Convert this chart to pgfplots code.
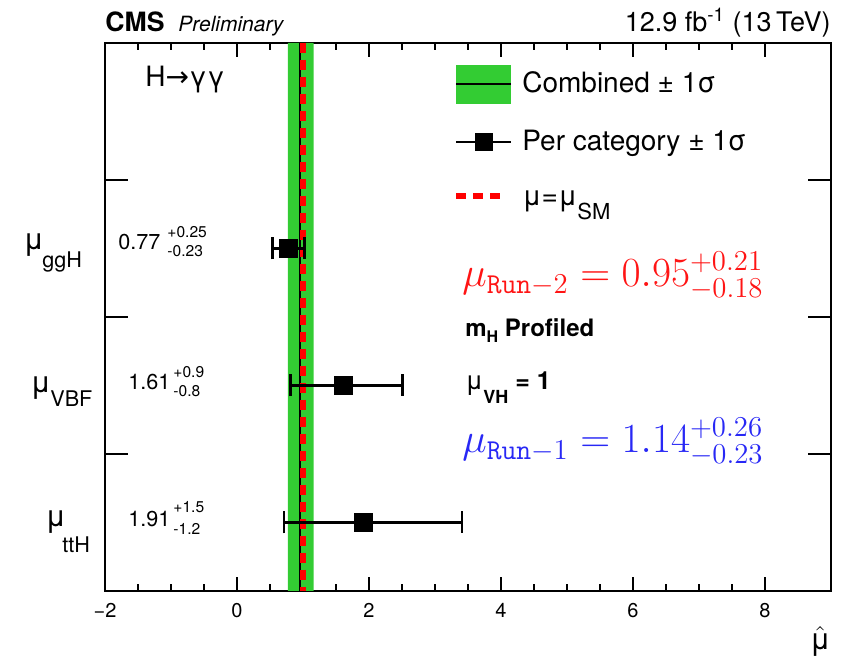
\documentclass[border=0pt]{standalone}
\usepackage{pgfplots}
\pgfplotsset{compat=1.18}
\usepackage{pgfplotstable}
\usepackage{amsmath}
\usepackage[no-math]{fontspec}
\setmainfont{TeX Gyre Heros}
\newfontfamily\dejavu{DejaVu Sans}
\definecolor{cmsgreen}{RGB}{51,204,51}
\definecolor{runred}{RGB}{255,20,20}
\definecolor{runblue}{RGB}{40,40,245}
\newcommand{\fs}[1]{\fontsize{#1}{#1}\selectfont}

\pgfplotstableread{
x y ep em
0.77 2.5 0.25 0.23
1.61 1.5 0.9 0.8
1.91 0.5 1.5 1.2
}\cats

\begin{document}
\begin{tikzpicture}
\begin{axis}[
  scale only axis, width=363pt, height=274pt,
  xmin=-2, xmax=9, ymin=0, ymax=4,
  xtick={-2,0,2,4,6,8},
  xticklabels={−2,0,2,4,6,8},
  minor x tick num=3,
  ytick=\empty,
  extra y ticks={1,2,3}, extra y tick labels={},
  extra y tick style={major tick length=11.5pt},
  major tick length=7pt, minor tick length=3.5pt,
  tick align=inside,
  axis line style={line width=0.8pt},
  every tick/.style={black, line width=0.7pt},
  xticklabel style={font=\fs{10}, yshift=-2.5pt},
  legend style={draw=none, fill=none, at={(rel axis cs:0.4794,0.9607)}, anchor=north west,
    inner sep=0pt, outer sep=0pt, row sep=9.5pt, font=\fs{14},
    nodes={inner sep=0pt}, /tikz/every odd column/.style={column sep=5pt}},
  legend cell align=left,
]
\addlegendimage{legend image code/.code={
  \fill[cmsgreen, draw=none] (0pt,-9.75pt) rectangle (27.5pt,9.75pt);
  \draw[black,line width=1pt] (0pt,0pt)--(27.5pt,0pt);}}
\addlegendentry{Combined ± 1σ}
\addlegendimage{legend image code/.code={
  \path[draw=none, fill=none] (0pt,-9.75pt) rectangle (27.5pt,9.75pt);
  \draw[black,line width=1.3pt] (0pt,0pt)--(27.5pt,0pt);
  \fill[black, draw=none] (9.25pt,-4.5pt) rectangle (18.25pt,4.5pt);}}
\addlegendentry{Per category ± 1σ}
\addlegendimage{legend image code/.code={
  \path[draw=none, fill=none] (0pt,-9.75pt) rectangle (27.5pt,9.75pt);
  \draw[red,line width=3pt,dash pattern=on 5pt off 3.5pt] (0pt,2pt)--(22pt,2pt);}}
\addlegendentry{μ=μ\smash{\raisebox{-7pt}{\fs{11}SM}}}

\addplot[fill=cmsgreen, draw=none, forget plot] coordinates {(0.77,0)(0.77,4)(1.16,4)(1.16,0)} \closedcycle;
\addplot[black, line width=1pt, forget plot] coordinates {(0.95,0)(0.95,4)};
\addplot[red, line width=3pt, dash pattern=on 5pt off 3.5pt, forget plot] coordinates {(1,4)(1,0)};
\addplot[black, only marks, mark=square*, mark size=4.5pt, forget plot,
  mark options={fill=black, draw=black, line width=0.2pt},
  error bars/.cd, x dir=both, x explicit, error mark=|,
  error bar style={line width=1.3pt, black},
  error mark options={black, line width=1.3pt, mark size=5.5pt}]
  table[x=x, y=y, x error plus=ep, x error minus=em] {\cats};
\end{axis}
% header
\node[anchor=base west, inner sep=0] at (0pt,279.5pt) {\fs{13.3}\bfseries CMS};
\node[anchor=base west, inner sep=0] at (36.5pt,279.5pt) {\fs{10.5}\itshape Preliminary};
\node[anchor=base east, inner sep=0] at (363pt,279.5pt) {\fs{13.5}12.9 fb\textsuperscript{-1} (13\,TeV)};
% inside text
\node[anchor=base west, inner sep=0] at (20pt,252pt) {\fs{14}H{\dejavu →}γγ};
\node[anchor=base west, inner sep=0] at (180pt,127pt) {\fs{12}\bfseries m\raisebox{-3pt}{\fs{8}H} Profiled};
\node[anchor=base west, inner sep=0] at (180pt,100.5pt) {\fs{13}μ\raisebox{-7pt}{\fs{9}\bfseries VH}\fs{12.5}\bfseries{} = 1};
\node[anchor=base west, inner sep=0, text=runred] at (178.5pt,152pt) {\fs{22.5}$\mu_{\mathtt{Run}-2} = 0.95^{+0.21}_{-0.18}$};
\node[anchor=base west, inner sep=0, text=runblue] at (178.5pt,69pt) {\fs{22.5}$\mu_{\mathtt{Run}-1} = 1.14^{+0.26}_{-0.23}$};
% y labels
\node[anchor=base west, inner sep=0] at (-41pt,170.5pt) {\fs{15}μ};
\node[anchor=base west, inner sep=0] at (-31.5pt,161.5pt) {\fs{10.8}ggH};
\node[anchor=base west, inner sep=0] at (-37.5pt,99pt) {\fs{15}μ};
\node[anchor=base west, inner sep=0] at (-27.5pt,92pt) {\fs{10.8}VBF};
\node[anchor=base west, inner sep=0] at (-30pt,32pt) {\fs{15}μ};
\node[anchor=base west, inner sep=0] at (-21.5pt,19pt) {\fs{10.8}ttH};
% values
\node[anchor=base west, inner sep=0] at (6.5pt,170.5pt) {\fs{10.8}0.77};
\node[anchor=base west, inner sep=0] at (31pt,176.5pt) {\fs{7.8}+0.25};
\node[anchor=base west, inner sep=0] at (31pt,167pt) {\fs{7.8}-0.23};
\node[anchor=base west, inner sep=0] at (11.5pt,100.5pt) {\fs{10.8}1.61};
\node[anchor=base west, inner sep=0] at (34pt,106.5pt) {\fs{7.8}+0.9};
\node[anchor=base west, inner sep=0] at (34pt,97pt) {\fs{7.8}-0.8};
\node[anchor=base west, inner sep=0] at (11.5pt,32pt) {\fs{10.8}1.91};
\node[anchor=base west, inner sep=0] at (34pt,39pt) {\fs{7.8}+1.5};
\node[anchor=base west, inner sep=0] at (34pt,28pt) {\fs{7.8}-1.2};
% x label
\node[anchor=base east, inner sep=0] at (363pt,-29.5pt) {\fs{15}$\hat{\text{μ}}$};
\pgfresetboundingbox
\path[use as bounding box] (-52.5pt,-35.5pt) rectangle (370.5pt,295.5pt);
\end{tikzpicture}
\end{document}
